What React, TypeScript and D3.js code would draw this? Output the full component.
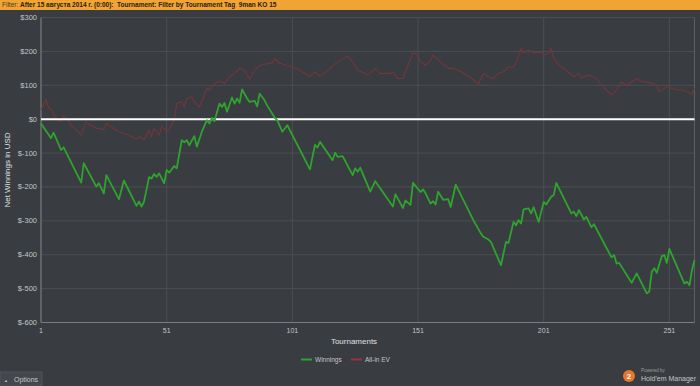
import React, { useEffect, useRef } from 'react'
import * as d3 from 'd3'

// values: [tournament, net $]
const winnings: [number, number][] = [
  [1, -13], [5, -56], [6, -40], [9, -91], [10, -83], [17, -187], [18, -130],
  [23, -199], [24, -189], [26, -219], [27, -165], [32, -236], [34, -181],
  [39, -256], [40, -243], [41, -258], [42, -243], [44, -171], [45, -175],
  [46, -162], [47, -170], [48, -160], [50, -189], [51, -150], [52, -158],
  [54, -138], [55, -145], [57, -62], [58, -68], [59, -62], [60, -77],
  [62, -50], [63, -81], [65, -37], [67, -3], [68, -13], [69, 4], [70, -6],
  [72, 46], [73, 36], [74, 48], [75, 22], [77, 64], [78, 46], [79, 61],
  [80, 48], [81, 88], [83, 61], [84, 51], [86, 54], [87, 38], [88, 75],
  [90, 55], [91, 40], [94, 4], [95, -3], [97, -37], [99, -18], [108, -148],
  [110, -76], [111, -84], [112, -67], [117, -121], [118, -99], [119, -111],
  [121, -109], [125, -165], [126, -145], [127, -155], [128, -143],
  [132, -214], [134, -183], [141, -258], [142, -221], [145, -262],
  [146, -240], [148, -253], [149, -188], [152, -215], [153, -207],
  [154, -219], [156, -249], [157, -242], [158, -252], [159, -214],
  [161, -238], [163, -236], [164, -259], [166, -193], [173, -298],
  [176, -337], [177, -347], [179, -355], [180, -362], [184, -431],
  [186, -362], [187, -365], [189, -303], [190, -313], [191, -298],
  [192, -308], [193, -266], [195, -263], [196, -278], [197, -260],
  [199, -303], [201, -244], [202, -252], [204, -229], [205, -224],
  [206, -188], [212, -278], [213, -273], [214, -286], [215, -268],
  [217, -296], [218, -288], [220, -319], [221, -310], [228, -408],
  [229, -401], [230, -426], [231, -424], [236, -483], [238, -455],
  [242, -514], [243, -509], [244, -450], [245, -440], [246, -453],
  [248, -404], [249, -401], [250, -424], [251, -383], [257, -485],
  [258, -480], [259, -490], [260, -445], [261, -416],
]

const allInEV: [number, number][] = [
  [1, 27], [3, 58], [4, 34], [5, 30], [7, 3], [8, -5], [9, -4], [10, 9],
  [12, -5], [13, -20], [15, -30], [17, -47], [19, -8], [21, -18], [23, -27],
  [26, -30], [27, -12], [30, -28], [32, -37], [36, -47], [39, -59], [40, -52],
  [42, -60], [44, -32], [45, -52], [46, -27], [48, -47], [49, -21], [51, -37],
  [52, -32], [54, -3], [55, 46], [57, 51], [58, 36], [59, 61], [61, 66],
  [62, 51], [64, 36], [66, 71], [67, 91], [68, 86], [70, 105], [72, 113],
  [74, 105], [76, 125], [78, 135], [80, 150], [82, 145], [84, 118], [86, 145],
  [88, 159], [90, 162], [93, 166], [94, 179], [96, 165], [100, 156],
  [104, 145], [108, 125], [110, 140], [112, 127], [116, 150], [119, 169],
  [123, 186], [125, 169], [127, 145], [131, 130], [134, 150], [136, 135],
  [140, 135], [141, 140], [143, 120], [145, 120], [147, 159], [149, 196],
  [151, 189], [152, 169], [154, 159], [156, 174], [157, 189], [160, 169],
  [163, 150], [165, 150], [168, 140], [172, 123], [175, 103], [177, 135],
  [179, 125], [181, 120], [183, 135], [185, 140], [187, 154], [189, 154],
  [190, 166], [192, 209], [193, 196], [195, 204], [197, 195], [200, 198],
  [201, 189], [203, 194], [204, 209], [205, 179], [207, 159], [210, 145],
  [213, 125], [215, 135], [216, 123], [219, 130], [222, 120], [224, 100],
  [226, 86], [228, 71], [230, 86], [232, 110], [234, 100], [238, 120],
  [240, 110], [242, 110], [246, 100], [247, 81], [250, 96], [253, 88],
  [256, 86], [258, 81], [260, 74], [261, 91],
]

const yTicks = [300, 200, 100, 0, -100, -200, -300, -400, -500, -600]
const xTicks = [1, 51, 101, 151, 201, 251]

export default function App() {
  const ref = useRef<SVGSVGElement>(null)

  useEffect(() => {
    const svg = d3.select(ref.current)
    svg.selectAll('*').remove()
    const W = 700, H = 386
    const font = "'Liberation Sans', Arial, sans-serif"

    svg.append('rect').attr('width', W).attr('height', H).attr('fill', '#393c40')

    // header filter bar
    svg.append('rect').attr('width', W).attr('height', 10).attr('fill', '#f0a434')
    const hdr = svg.append('text')
      .attr('x', 2).attr('y', 7.3)
      .attr('font-family', font).attr('font-size', 6.5)
      .attr('fill', '#2b2010')
      .style('white-space', 'pre')
    hdr.append('tspan').attr('fill', '#4a3a20').text('Filter: ')
    hdr.append('tspan').attr('font-weight', 'bold')
      .text('After 15 августа 2014 г. (0:00):  Tournament: Filter by Tournament Tag  9man KO 15')

    const x = d3.scaleLinear().domain([1, 261]).range([41, 694.5])
    const y = d3.scaleLinear().domain([-600, 300]).range([322.5, 17.5])

    const g = svg.append('g')

    // grid
    g.selectAll('.hg').data(yTicks).enter().append('line')
      .attr('x1', x(1)).attr('x2', x(261))
      .attr('y1', d => y(d)).attr('y2', d => y(d))
      .attr('stroke', '#4b4f53').attr('stroke-width', 1)
    g.selectAll('.vg').data(xTicks.slice(1).concat([261])).enter().append('line')
      .attr('x1', d => x(d)).attr('x2', d => x(d))
      .attr('y1', y(300)).attr('y2', y(-600))
      .attr('stroke', d => d === 261 ? '#5c6064' : '#4b4f53').attr('stroke-width', 1)

    // axes
    g.append('line').attr('x1', x(1)).attr('x2', x(1)).attr('y1', y(300)).attr('y2', y(-600))
      .attr('stroke', '#7a7e82').attr('stroke-width', 1.2)
    g.append('line').attr('x1', x(1)).attr('x2', x(261)).attr('y1', y(-600)).attr('y2', y(-600))
      .attr('stroke', '#7a7e82').attr('stroke-width', 1.2)

    g.selectAll('.yl').data(yTicks).enter().append('text')
      .attr('x', 37).attr('y', d => y(d) + 2.5)
      .attr('text-anchor', 'end')
      .attr('font-family', font).attr('font-size', 7.5)
      .attr('fill', '#c4c6c8')
      .text(d => '$' + d)
    g.selectAll('.xl').data(xTicks).enter().append('text')
      .attr('x', d => x(d)).attr('y', 333)
      .attr('text-anchor', 'middle')
      .attr('font-family', font).attr('font-size', 7)
      .attr('fill', '#c4c6c8')
      .text(d => d)

    svg.append('text')
      .attr('transform', `translate(10,170) rotate(-90)`)
      .attr('text-anchor', 'middle')
      .attr('font-family', font).attr('font-size', 8)
      .attr('fill', '#e0e0e0')
      .text('Net Winnings in USD')
    svg.append('text')
      .attr('x', 354).attr('y', 344)
      .attr('text-anchor', 'middle')
      .attr('font-family', font).attr('font-size', 8)
      .attr('fill', '#e0e0e0')
      .text('Tournaments')

    const line = d3.line<[number, number]>().x(d => x(d[0])).y(d => y(d[1]))

    g.append('path').datum(allInEV).attr('d', line)
      .attr('fill', 'none').attr('stroke', '#74363a').attr('stroke-width', 1.1)
      .attr('stroke-linejoin', 'round')

    // zero line
    g.append('line').attr('x1', x(1)).attr('x2', x(261)).attr('y1', y(0)).attr('y2', y(0))
      .attr('stroke', '#ffffff').attr('stroke-width', 2)

    g.append('path').datum(winnings).attr('d', line)
      .attr('fill', 'none').attr('stroke', '#2ea42e').attr('stroke-width', 1.8)
      .attr('stroke-linejoin', 'round')

    // legend
    const legend = [
      { name: 'Winnings', color: '#2ea42e', x: 301 },
      { name: 'All-in EV', color: '#a0303a', x: 351 },
    ]
    const lg = svg.selectAll('.lg').data(legend).enter().append('g')
    lg.append('line')
      .attr('x1', d => d.x).attr('x2', d => d.x + 11)
      .attr('y1', 359.5).attr('y2', 359.5)
      .attr('stroke', d => d.color).attr('stroke-width', 2)
    lg.append('text')
      .attr('x', d => d.x + 14).attr('y', 362)
      .attr('font-family', font).attr('font-size', 6.5)
      .attr('fill', '#c4c6c8')
      .text(d => d.name)

    // options tab
    svg.append('rect').attr('x', 0).attr('y', 372).attr('width', 42).attr('height', 14)
      .attr('fill', '#44474b').attr('stroke', '#505458')
    svg.append('text').attr('x', 4).attr('y', 381.5)
      .attr('font-family', font).attr('font-size', 4).attr('fill', '#c4c6c8').text('▲')
    svg.append('text').attr('x', 14).attr('y', 382)
      .attr('font-family', font).attr('font-size', 7).attr('fill', '#c4c6c8').text('Options')

    // powered by logo
    svg.append('circle').attr('cx', 629).attr('cy', 376).attr('r', 6).attr('fill', '#e8762c')
    svg.append('text').attr('x', 629).attr('y', 379).attr('text-anchor', 'middle')
      .attr('font-family', font).attr('font-size', 8).attr('font-weight', 'bold')
      .attr('fill', '#fff').text('2')
    svg.append('text').attr('x', 641).attr('y', 372)
      .attr('font-family', font).attr('font-size', 4.5).attr('fill', '#9a9ea2').text('Powered by')
    svg.append('text').attr('x', 641).attr('y', 380.5)
      .attr('font-family', font).attr('font-size', 7).attr('fill', '#c4c6c8').text("Hold'em Manager")
  }, [])

  return (
    <svg ref={ref} width={700} height={386}
      style={{ position: 'absolute', left: 0, top: 0, display: 'block' }} />
  )
}
